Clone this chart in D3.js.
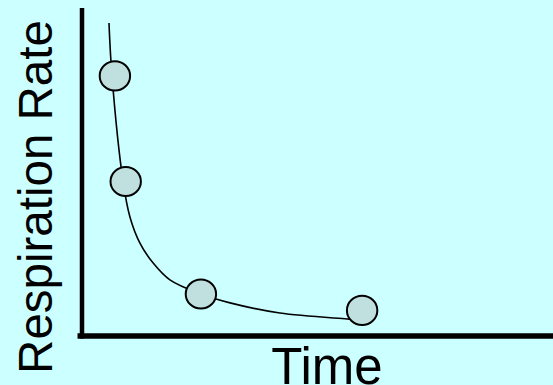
<!DOCTYPE html>
<html>
<head>
<meta charset="utf-8">
<script src="https://cdn.jsdelivr.net/npm/d3@7"></script>
<style>
  html, body { margin: 0; padding: 0; background: #ccffff; }
  svg { display: block; }
  text { font-family: "Liberation Sans", Arial, sans-serif; fill: #000; }
</style>
</head>
<body>
<div id="chart"></div>
<script>
// Observed data points (time, respiration rate), arbitrary units
const pointTimes = [0.70, 0.93, 2.53, 5.96];
const pointRates = [7.93, 4.71, 1.28, 0.78];

// Hand-drawn fitted curve
const curveTimes = [0.574, 0.638, 0.872, 1.02, 1.23, 1.51, 1.87, 2.53, 3.15, 4.21, 5.64, 5.91];
const curveRates = [9.54, 7.93, 4.73, 3.63, 2.84, 2.23, 1.71, 1.28, 1.01, 0.70, 0.52, 0.49];

const xLabel = "Time";
const yLabel = "Respiration Rate";

const W = 553, H = 385;
const svg = d3.select("#chart").append("svg").attr("width", W).attr("height", H);
svg.append("rect").attr("width", W).attr("height", H).attr("fill", "#ccffff");

const x = d3.scaleLinear().domain([0, 10]).range([82, 552]);
const y = d3.scaleLinear().domain([0, 10]).range([336, 8]);

// curve
const curveData = curveTimes.map((t, i) => [t, curveRates[i]]);
svg.append("path")
  .datum(curveData)
  .attr("fill", "none")
  .attr("stroke", "#000")
  .attr("stroke-width", 1.6)
  .attr("d", d3.line().x(d => x(d[0])).y(d => y(d[1])).curve(d3.curveCatmullRom.alpha(0.5)));

// points
const pts = pointTimes.map((t, i) => ({ t, r: pointRates[i] }));
svg.selectAll("ellipse.pt").data(pts).enter().append("ellipse")
  .attr("class", "pt")
  .attr("cx", d => x(d.t))
  .attr("cy", d => y(d.r))
  .attr("rx", 15.2)
  .attr("ry", 14.6)
  .attr("fill", "#c0e0e0")
  .attr("stroke", "#000")
  .attr("stroke-width", 2);

// axes (bare lines, no ticks)
const xAxis = d3.axisBottom(x).tickValues([]).tickSizeOuter(0);
const yAxis = d3.axisLeft(y).tickValues([]).tickSizeOuter(0);
const gx = svg.append("g").attr("transform", `translate(0,${y(0)})`).call(xAxis);
gx.select(".domain").attr("stroke", "#000").attr("stroke-width", 5.5)
  .attr("d", `M${x(0) - 4.5},0H${W}`);
const gy = svg.append("g").attr("transform", `translate(${x(0)},0)`).call(yAxis);
gy.select(".domain").attr("stroke", "#000").attr("stroke-width", 4.5)
  .attr("d", `M0,${y(10)}V${y(0) + 2.5}`);

// labels
svg.append("text")
  .attr("transform", "translate(51.5,197) rotate(-90)")
  .attr("text-anchor", "middle")
  .style("font-size", "47.5px")
  .text(yLabel);

svg.append("text")
  .attr("x", 327)
  .attr("y", 383.5)
  .attr("text-anchor", "middle")
  .style("font-size", "51px")
  .text(xLabel);
</script>
</body>
</html>
